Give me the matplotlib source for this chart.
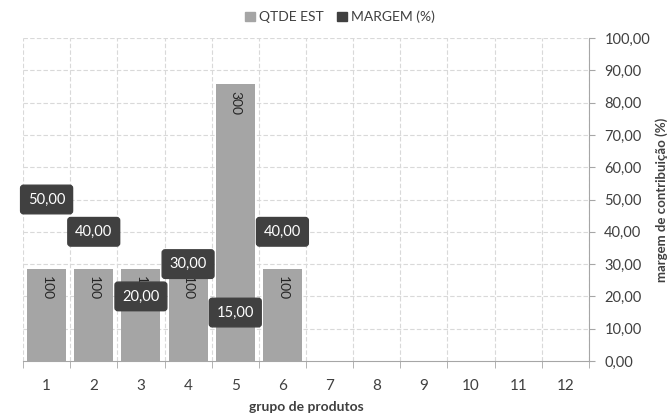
import numpy as np
import matplotlib
matplotlib.use("Agg")
import matplotlib.pyplot as plt
import matplotlib.transforms as mtrans
from matplotlib.patches import Patch

categories = [str(i) for i in range(1, 13)]
qtde_est = [100, 100, 100, 100, 300, 100, np.nan, np.nan, np.nan, np.nan, np.nan, np.nan]
margem = [50, 40, 20, 30, 15, 40, np.nan, np.nan, np.nan, np.nan, np.nan, np.nan]
right_ticks = list(range(0, 101, 10))
right_tick_labels = [f"{v:.2f}".replace(".", ",") for v in right_ticks]

plt.rcParams['font.family'] = ['Lato', 'DejaVu Sans']
TXT = '#404040'
BAR = '#A5A5A5'
DARK = '#404040'
AXC = '#A6A6A6'
GRID = '#D9D9D9'

fig = plt.figure(figsize=(6.71, 4.17), dpi=100)
ax = fig.add_axes([23/671, 1-361/417, (589-23)/671, (361-38)/417])
ax2 = ax.twinx()

x = np.arange(len(categories))
ax.bar(x, qtde_est, width=0.83, color=BAR, zorder=2)
ax.set_xlim(-0.5, len(categories)-0.5)
ax.set_ylim(0, 350)
ax.set_yticks([])
ax.set_xticks(x)
ax.set_xticklabels(categories, fontsize=11, color=TXT)
ax.set_xticks(np.arange(-0.5, len(categories), 1), minor=True)
ax.tick_params(axis='x', which='major', length=0, pad=13)
ax.tick_params(axis='x', which='minor', length=5, color=AXC, direction='out')
ax.grid(False)
for b in np.arange(-0.5, len(categories), 1):
    ax.axvline(b, color=GRID, lw=0.8, ls=(0, (4, 2)), zorder=0)
for s in ['top', 'left', 'right']:
    ax.spines[s].set_visible(False)
ax.spines['bottom'].set_color(AXC)
ax.set_xlabel('grupo de produtos', fontsize=10, fontweight='bold', color=TXT, labelpad=6)

for xi, v in zip(x, qtde_est):
    if not np.isnan(v):
        ax.annotate(f"{int(v)}", (xi, v), xytext=(0, -7), textcoords='offset pixels',
                    rotation=270, ha='center', va='top', fontsize=10, color='#262626', zorder=3)

ax2.set_ylim(0, 100)
ax2.set_yticks(right_ticks)
ax2.set_yticklabels(right_tick_labels, fontsize=10.5, color=TXT)
ax2.tick_params(axis='y', length=4, color=AXC, direction='out', pad=7)
for s in ['top', 'left', 'bottom']:
    ax2.spines[s].set_visible(False)
ax2.spines['right'].set_color(AXC)

# horizontal gridlines (right-axis values) drawn behind the bars
gtrans = mtrans.blended_transform_factory(ax.transAxes, ax2.transData)
ax.hlines(right_ticks[1:], 0, 1, transform=gtrans, colors=GRID, lw=0.8,
          linestyles=[(0, (4, 2))], zorder=0)

ax2.set_ylabel('margem de contribuição (%)', fontsize=9.5, fontweight='bold', color=TXT, labelpad=4)

for xi, v in zip(x, margem):
    if not np.isnan(v):
        ax2.text(xi, v, f"{v:.2f}".replace(".", ","), ha='center', va='center',
                 fontsize=10.5, color='white', zorder=5,
                 bbox=dict(boxstyle='round,pad=0.5,rounding_size=0.2', fc=DARK, ec=DARK))

handles = [Patch(color=BAR, label='QTDE EST'), Patch(color=DARK, label='MARGEM (%)')]
fig.legend(handles=handles, loc='center', bbox_to_anchor=(340/671, 1-17/417), ncol=2,
           frameon=False, fontsize=10, handlelength=0.7, handleheight=0.7,
           handletextpad=0.3, columnspacing=1.0, labelcolor=TXT)

fig.savefig('out.png', dpi=100)
